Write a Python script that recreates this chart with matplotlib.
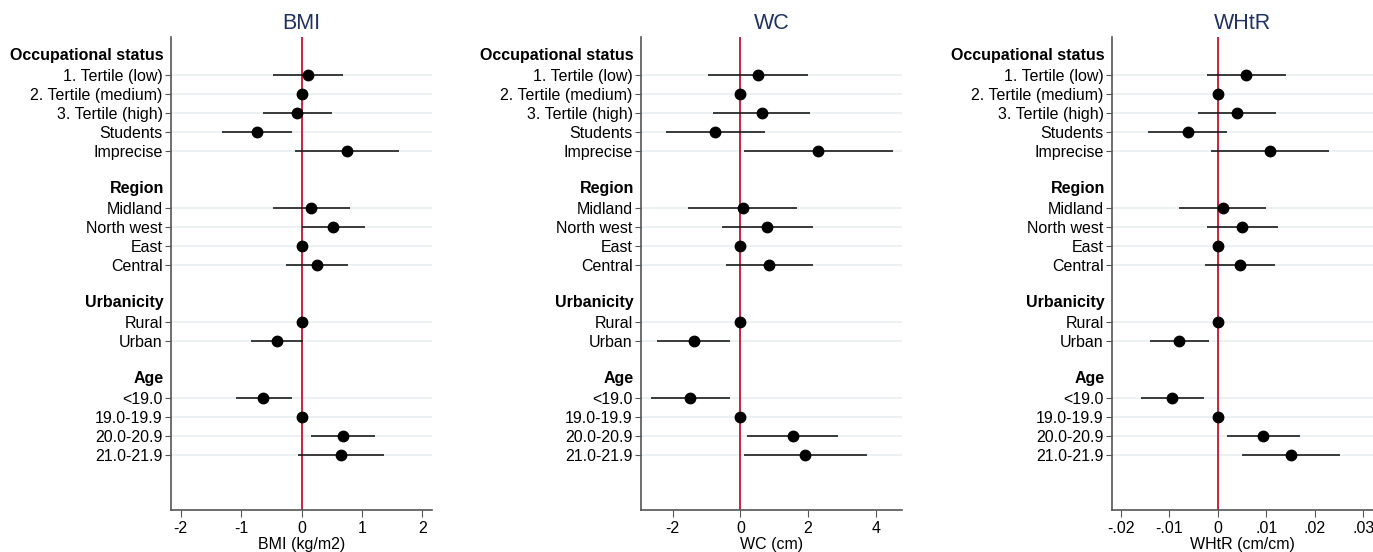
"""Forest plot: BMI, WC and WHtR differences by background factors."""

import matplotlib

matplotlib.use("Agg")
import matplotlib.pyplot as plt
import matplotlib.transforms as mtransforms

plt.rcParams["font.family"] = ["Liberation Sans", "DejaVu Sans"]

groups = ["Occupational status", "Region", "Urbanicity", "Age"]
group_items = [
    ["1. Tertile (low)", "2. Tertile (medium)", "3. Tertile (high)", "Students", "Imprecise"],
    ["Midland", "North west", "East", "Central"],
    ["Rural", "Urban"],
    ["<19.0", "19.0-19.9", "20.0-20.9", "21.0-21.9"],
]

# estimates, lower and upper bounds in item order (all groups concatenated)
bmi_est = [0.10, 0.0, -0.07, -0.73, 0.75, 0.16, 0.52, 0.0, 0.25, 0.0, -0.41, -0.63, 0.0, 0.68, 0.65]
bmi_lo = [-0.47, 0.0, -0.64, -1.31, -0.11, -0.47, 0.0, 0.0, -0.25, 0.0, -0.84, -1.09, 0.0, 0.15, -0.06]
bmi_hi = [0.68, 0.0, 0.51, -0.15, 1.62, 0.80, 1.05, 0.0, 0.77, 0.0, 0.02, -0.16, 0.0, 1.21, 1.37]

wc_est = [0.52, 0.0, 0.63, -0.74, 2.30, 0.07, 0.80, 0.0, 0.85, 0.0, -1.36, -1.47, 0.0, 1.54, 1.92]
wc_lo = [-0.95, 0.0, -0.82, -2.20, 0.10, -1.55, -0.53, 0.0, -0.43, 0.0, -2.45, -2.64, 0.0, 0.20, 0.11]
wc_hi = [1.99, 0.0, 2.07, 0.73, 4.50, 1.67, 2.14, 0.0, 2.14, 0.0, -0.30, -0.30, 0.0, 2.89, 3.74]

whtr_est = [0.0059, 0.0, 0.0039, -0.0062, 0.0108, 0.0010, 0.0051, 0.0, 0.0045, 0.0, -0.0080, -0.0095, 0.0, 0.0094, 0.0151]
whtr_lo = [-0.0023, 0.0, -0.0041, -0.0144, -0.0014, -0.0080, -0.0023, 0.0, -0.0026, 0.0, -0.0139, -0.0159, 0.0, 0.0020, 0.0050]
whtr_hi = [0.0140, 0.0, 0.0120, 0.0019, 0.0230, 0.0100, 0.0125, 0.0, 0.0117, 0.0, -0.0019, -0.0028, 0.0, 0.0169, 0.0253]

panels = [
    ("BMI", "BMI (kg/m2)", bmi_est, bmi_lo, bmi_hi,
     (-2.16, 2.16), [-2, -1, 0, 1, 2], ["-2", "-1", "0", "1", "2"]),
    ("WC", "WC (cm)", wc_est, wc_lo, wc_hi,
     (-2.93, 4.77), [-2, 0, 2, 4], ["-2", "0", "2", "4"]),
    ("WHtR", "WHtR (cm/cm)", whtr_est, whtr_lo, whtr_hi,
     (-0.0218, 0.032), [-0.02, -0.01, 0, 0.01, 0.02, 0.03],
     ["-.02", "-.01", "0", ".01", ".02", ".03"]),
]

# row layout: header row, its items, then a blank row
header_rows = []
item_rows = []
item_labels = []
row = 0
for g, items in zip(groups, group_items):
    header_rows.append(row)
    row += 1
    for it in items:
        item_rows.append(row)
        item_labels.append(it)
        row += 1
    row += 1

fig = plt.figure(figsize=(13.73, 5.52), dpi=100)
lefts = [171, 641, 1112]
W, H = 1373, 552
bottom, top = 510, 37
fs = 11.5

for left, (title, xlabel, est, lo, hi, xlim, xt, xtl) in zip(lefts, panels):
    ax = fig.add_axes([left / W, 1 - bottom / H, 261 / W, (bottom - top) / H])
    for y in item_rows:
        ax.axhline(y, color="#e9f0f2", lw=1.2, zorder=0)
    ax.axvline(0, color="#c8102e", lw=1.3, zorder=1)
    ax.hlines(item_rows, lo, hi, color="#1a1a1a", lw=1.2, zorder=2)
    ax.plot(est, item_rows, "o", color="black", ms=7.5, zorder=3)

    ax.set_xlim(*xlim)
    ax.set_ylim(23.9, -1)
    ax.set_xticks(xt, xtl, fontsize=fs)
    ax.set_yticks(item_rows, item_labels, fontsize=fs)
    ax.tick_params(axis="y", length=4, color="#555555", pad=2)
    ax.tick_params(axis="x", length=5, color="#555555", pad=3)
    ax.set_xlabel(xlabel, fontsize=fs, labelpad=1)
    ax.set_title(title, fontsize=15.5, color="#1f3263", pad=6)
    for s in ("top", "right"):
        ax.spines[s].set_visible(False)
    for s in ("left", "bottom"):
        ax.spines[s].set_color("#555555")
        ax.spines[s].set_linewidth(1.2)

    trans = mtransforms.blended_transform_factory(ax.transAxes, ax.transData)
    offset = mtransforms.ScaledTranslation(-7 / 100, 0, fig.dpi_scale_trans)
    for g, r in zip(groups, header_rows):
        ax.text(0, r, g, transform=trans + offset, ha="right", va="center",
                fontsize=fs, fontweight="bold")

fig.savefig("out.png", dpi=100)
